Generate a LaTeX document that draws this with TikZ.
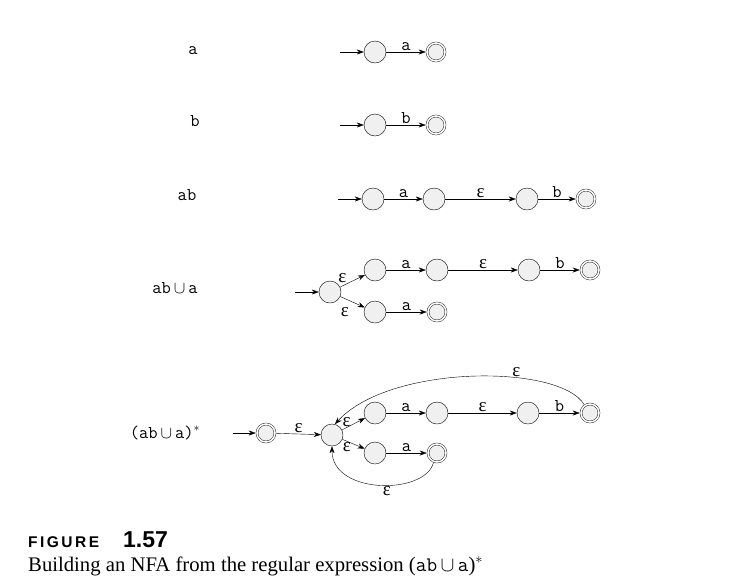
\documentclass[tikz,border=0pt]{standalone}
\usepackage{fontspec}
\setmainfont{Liberation Serif}
\setmonofont{Latin Modern Mono}
\newfontfamily\capfont{Liberation Sans}
\newfontfamily\epsfont{Liberation Serif}
\usetikzlibrary{arrows.meta}

\tikzset{
  state/.style={circle,draw,thin,fill=gray!12,minimum size=22pt,inner sep=0pt},
  accept/.style={state,double,double distance=1.6pt,minimum size=18pt,outer sep=1.3pt},
  trans/.style={-{Stealth[length=7pt,width=5pt]},thin},
  lbl/.style={font=\ttfamily\fontsize{18}{20}\selectfont,inner sep=1pt},
  eps/.style={font=\epsfont\fontsize{19}{21}\selectfont,inner sep=1pt},
  rowlbl/.style={font=\ttfamily\fontsize{18}{20}\selectfont,anchor=base}
}
\newcommand{\ep}{ε}
\newcommand{\uni}{\,$\cup$\,}

\begin{document}
\begin{tikzpicture}[x=1pt,y=-1pt]
\useasboundingbox (0,0) rectangle (738,579);

% a
\node[rowlbl] (r1) at (193,54) {a};
\coordinate (i1) at (340,52);
\node[state] (q11) at (375,52) {};
\node[accept] (f11) at (436,52) {};
\draw[trans] (i1) -- (q11);
\draw[trans] (q11) -- node[lbl,above] {a} (f11);

% b
\node[rowlbl] (r2) at (195,126) {b};
\coordinate (i2) at (340,125);
\node[state] (q21) at (375,125) {};
\node[accept] (f21) at (436,125) {};
\draw[trans] (i2) -- (q21);
\draw[trans] (q21) -- node[lbl,above] {b} (f21);

% ab
\node[rowlbl] (r3) at (187,200) {ab};
\coordinate (i3) at (338,199);
\node[state] (q31) at (373,199) {};
\node[state] (q32) at (434,199) {};
\node[state] (q33) at (527,199) {};
\node[accept] (f31) at (586,199) {};
\draw[trans] (i3) -- (q31);
\draw[trans] (q31) -- node[lbl,above] {a} (q32);
\draw[trans] (q32) -- node[eps,above] {\ep} (q33);
\draw[trans] (q33) -- node[lbl,above] {b} (f31);

% ab u a
\node[rowlbl] (r4) at (175,293) {ab\uni a};
\coordinate (i4) at (295,292);
\node[state] (s4) at (330,292) {};
\node[state] (q41) at (375,270) {};
\node[state] (q42) at (437,270) {};
\node[state] (q43) at (529,270) {};
\node[accept] (f41) at (590,270) {};
\node[state] (q44) at (375,312) {};
\node[accept] (f42) at (437,312) {};
\draw[trans] (i4) -- (s4);
\draw[trans] (s4) -- node[eps,above left,pos=0.3] {\ep} (q41);
\draw[trans] (s4) -- node[eps,below left,pos=0.4,yshift=-5pt] {\ep} (q44);
\draw[trans] (q41) -- node[lbl,above] {a} (q42);
\draw[trans] (q42) -- node[eps,above] {\ep} (q43);
\draw[trans] (q43) -- node[lbl,above] {b} (f41);
\draw[trans] (q44) -- node[lbl,above] {a} (f42);

% (ab u a)*
\node[rowlbl] (r5) at (165,438) {(ab\uni a)$^*$};
\coordinate (i5) at (233,433);
\node[accept] (f50) at (266,433) {};
\node[state] (s5) at (332,435) {};
\node[state] (q51) at (375,413) {};
\node[state] (q52) at (437,413) {};
\node[state] (q53) at (528,413) {};
\node[accept] (f51) at (590,413) {};
\node[state] (q54) at (375,453) {};
\node[accept] (f52) at (437,453) {};
\draw[trans] (i5) -- (f50);
\draw[trans] (f50) -- node[eps,above] {\ep} (s5);
\draw[trans] (s5) -- node[eps,above,pos=0.2] {\ep} (q51);
\draw[trans] (s5) -- node[eps,below,pos=0.2] {\ep} (q54);
\draw[trans] (q51) -- node[lbl,above] {a} (q52);
\draw[trans] (q52) -- node[eps,above] {\ep} (q53);
\draw[trans] (q53) -- node[lbl,above] {b} (f51);
\draw[trans] (q54) -- node[lbl,above] {a} (f52);
\draw[trans] (f51.125) .. controls (560,364) and (390,364) .. node[eps,above,pos=0.35] {\ep} (s5.75);
\draw[trans] (f52.250) .. controls (425,495) and (332,495) .. node[eps,below,pos=0.45] {\ep} (s5.270);

% caption
\node[anchor=base west,inner sep=0pt] (fig) at (28,547)
  {\capfont\bfseries\addfontfeature{LetterSpace=16}\fontsize{15.5}{17}\selectfont FIGURE};
\node[anchor=base west,inner sep=0pt] (num) at (123,547)
  {\capfont\bfseries\fontsize{23}{25}\selectfont 1.57};
\node[anchor=base west,inner sep=0pt] (cap) at (28,571)
  {\fontsize{20.7}{23}\selectfont Building an NFA from the regular expression (\texttt{ab}\uni\texttt{a})$^*$};

\end{tikzpicture}
\end{document}
